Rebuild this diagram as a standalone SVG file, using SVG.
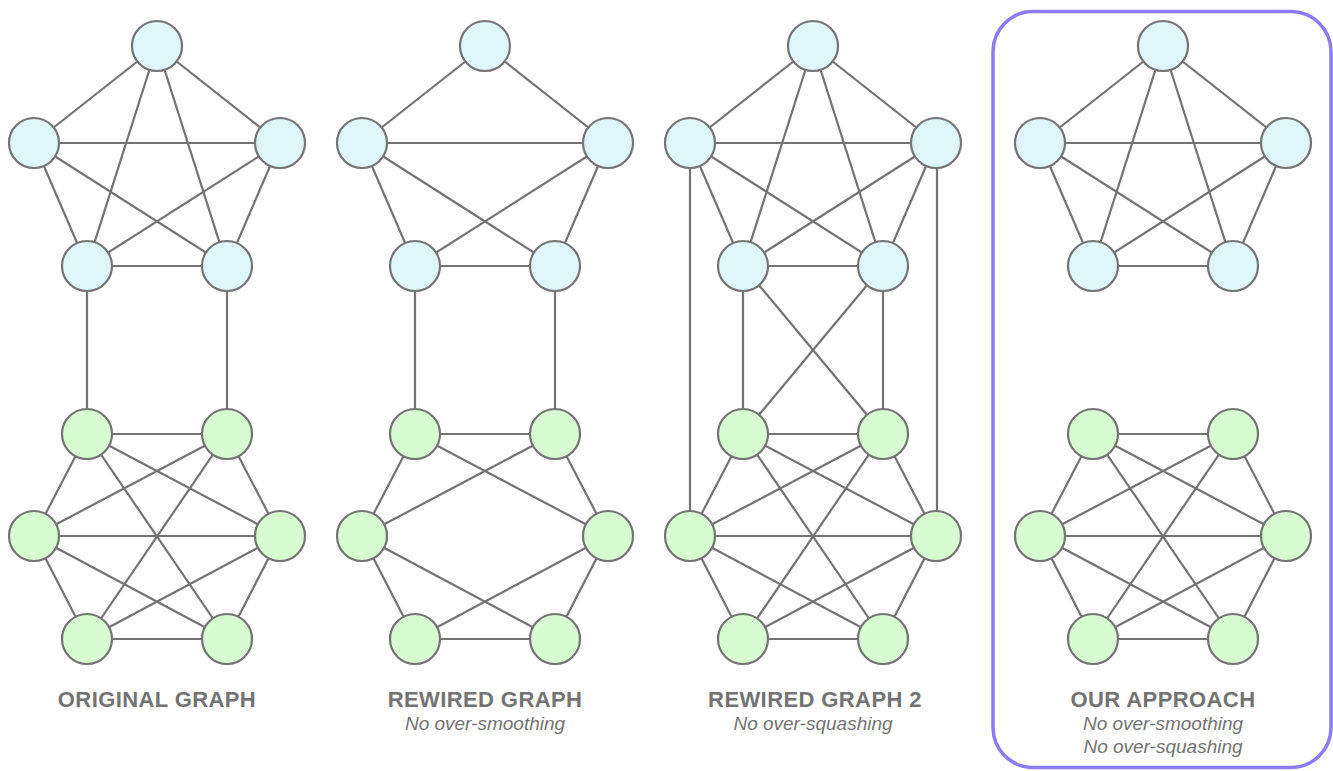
<svg xmlns="http://www.w3.org/2000/svg" xmlns:xlink="http://www.w3.org/1999/xlink" width="1333" height="771" viewBox="0 0 1333 771">
<style>
.e{stroke:#737373;stroke-width:2.2;fill:none}
.b{fill:#DFF6FB;stroke:#737373;stroke-width:2.2}
.g{fill:#D8FCD2;stroke:#737373;stroke-width:2.2}
.t{font-family:"Liberation Sans",Arial,sans-serif;font-weight:bold;font-size:22px;fill:#737373;text-anchor:middle;letter-spacing:0.4px}
.s{font-family:"Liberation Sans",Arial,sans-serif;font-style:italic;font-size:19px;fill:#737373;text-anchor:middle}
</style>
<rect id="highlight" x="993" y="11.5" width="338" height="756" rx="40" fill="none" stroke="#8B7BF7" stroke-width="3.5"/>
<g id="connectors">
 <g id="c1">
  <line class="e" x1="157" y1="46" x2="34" y2="143"/><line class="e" x1="157" y1="46" x2="280" y2="143"/><line class="e" x1="157" y1="46" x2="87" y2="266"/><line class="e" x1="157" y1="46" x2="227" y2="266"/>
  <line class="e" x1="34" y1="143" x2="280" y2="143"/><line class="e" x1="34" y1="143" x2="87" y2="266"/><line class="e" x1="34" y1="143" x2="227" y2="266"/>
  <line class="e" x1="280" y1="143" x2="87" y2="266"/><line class="e" x1="280" y1="143" x2="227" y2="266"/><line class="e" x1="87" y1="266" x2="227" y2="266"/>
  <line class="e" x1="87" y1="266" x2="87" y2="434"/><line class="e" x1="227" y1="266" x2="227" y2="434"/>
  <line class="e" x1="87" y1="434" x2="227" y2="434"/><line class="e" x1="87" y1="434" x2="34" y2="536"/><line class="e" x1="87" y1="434" x2="280" y2="536"/><line class="e" x1="87" y1="434" x2="227" y2="639"/>
  <line class="e" x1="227" y1="434" x2="34" y2="536"/><line class="e" x1="227" y1="434" x2="280" y2="536"/><line class="e" x1="227" y1="434" x2="87" y2="639"/>
  <line class="e" x1="34" y1="536" x2="280" y2="536"/><line class="e" x1="34" y1="536" x2="87" y2="639"/><line class="e" x1="34" y1="536" x2="227" y2="639"/>
  <line class="e" x1="280" y1="536" x2="87" y2="639"/><line class="e" x1="280" y1="536" x2="227" y2="639"/><line class="e" x1="87" y1="639" x2="227" y2="639"/>
 </g>
 <g id="c2" transform="translate(328,0)">
  <line class="e" x1="157" y1="46" x2="34" y2="143"/><line class="e" x1="157" y1="46" x2="280" y2="143"/>
  <line class="e" x1="34" y1="143" x2="280" y2="143"/><line class="e" x1="34" y1="143" x2="87" y2="266"/><line class="e" x1="34" y1="143" x2="227" y2="266"/>
  <line class="e" x1="280" y1="143" x2="87" y2="266"/><line class="e" x1="280" y1="143" x2="227" y2="266"/><line class="e" x1="87" y1="266" x2="227" y2="266"/>
  <line class="e" x1="87" y1="266" x2="87" y2="434"/><line class="e" x1="227" y1="266" x2="227" y2="434"/>
  <line class="e" x1="87" y1="434" x2="227" y2="434"/><line class="e" x1="87" y1="434" x2="34" y2="536"/><line class="e" x1="87" y1="434" x2="280" y2="536"/>
  <line class="e" x1="227" y1="434" x2="34" y2="536"/><line class="e" x1="227" y1="434" x2="280" y2="536"/>
  <line class="e" x1="34" y1="536" x2="87" y2="639"/><line class="e" x1="34" y1="536" x2="227" y2="639"/>
  <line class="e" x1="280" y1="536" x2="87" y2="639"/><line class="e" x1="280" y1="536" x2="227" y2="639"/><line class="e" x1="87" y1="639" x2="227" y2="639"/>
 </g>
 <g id="c3" transform="translate(656,0)">
  <line class="e" x1="157" y1="46" x2="34" y2="143"/><line class="e" x1="157" y1="46" x2="280" y2="143"/><line class="e" x1="157" y1="46" x2="87" y2="266"/><line class="e" x1="157" y1="46" x2="227" y2="266"/>
  <line class="e" x1="34" y1="143" x2="280" y2="143"/><line class="e" x1="34" y1="143" x2="87" y2="266"/><line class="e" x1="34" y1="143" x2="227" y2="266"/>
  <line class="e" x1="280" y1="143" x2="87" y2="266"/><line class="e" x1="280" y1="143" x2="227" y2="266"/><line class="e" x1="87" y1="266" x2="227" y2="266"/>
  <line class="e" x1="34" y1="143" x2="34" y2="536"/><line class="e" x1="281" y1="143" x2="281" y2="536"/>
  <line class="e" x1="87" y1="266" x2="87" y2="434"/><line class="e" x1="227" y1="266" x2="227" y2="434"/>
  <line class="e" x1="87" y1="266" x2="227" y2="434"/><line class="e" x1="227" y1="266" x2="87" y2="434"/>
  <line class="e" x1="87" y1="434" x2="227" y2="434"/><line class="e" x1="87" y1="434" x2="34" y2="536"/><line class="e" x1="87" y1="434" x2="280" y2="536"/><line class="e" x1="87" y1="434" x2="227" y2="639"/>
  <line class="e" x1="227" y1="434" x2="34" y2="536"/><line class="e" x1="227" y1="434" x2="280" y2="536"/><line class="e" x1="227" y1="434" x2="87" y2="639"/>
  <line class="e" x1="34" y1="536" x2="280" y2="536"/><line class="e" x1="34" y1="536" x2="87" y2="639"/><line class="e" x1="34" y1="536" x2="227" y2="639"/>
  <line class="e" x1="280" y1="536" x2="87" y2="639"/><line class="e" x1="280" y1="536" x2="227" y2="639"/><line class="e" x1="87" y1="639" x2="227" y2="639"/>
 </g>
 <g id="c4" transform="translate(1006,0)">
  <line class="e" x1="157" y1="46" x2="34" y2="143"/><line class="e" x1="157" y1="46" x2="280" y2="143"/><line class="e" x1="157" y1="46" x2="87" y2="266"/><line class="e" x1="157" y1="46" x2="227" y2="266"/>
  <line class="e" x1="34" y1="143" x2="280" y2="143"/><line class="e" x1="34" y1="143" x2="87" y2="266"/><line class="e" x1="34" y1="143" x2="227" y2="266"/>
  <line class="e" x1="280" y1="143" x2="87" y2="266"/><line class="e" x1="280" y1="143" x2="227" y2="266"/><line class="e" x1="87" y1="266" x2="227" y2="266"/>
  <line class="e" x1="87" y1="434" x2="227" y2="434"/><line class="e" x1="87" y1="434" x2="34" y2="536"/><line class="e" x1="87" y1="434" x2="280" y2="536"/><line class="e" x1="87" y1="434" x2="227" y2="639"/>
  <line class="e" x1="227" y1="434" x2="34" y2="536"/><line class="e" x1="227" y1="434" x2="280" y2="536"/><line class="e" x1="227" y1="434" x2="87" y2="639"/>
  <line class="e" x1="34" y1="536" x2="280" y2="536"/><line class="e" x1="34" y1="536" x2="87" y2="639"/><line class="e" x1="34" y1="536" x2="227" y2="639"/>
  <line class="e" x1="280" y1="536" x2="87" y2="639"/><line class="e" x1="280" y1="536" x2="227" y2="639"/><line class="e" x1="87" y1="639" x2="227" y2="639"/>
 </g>
</g>
<g id="panel1">
 <g id="p1-b1"><circle class="b" cx="157" cy="46" r="25"/></g>
 <g id="p1-b2"><circle class="b" cx="34" cy="143" r="25"/></g>
 <g id="p1-b3"><circle class="b" cx="280" cy="143" r="25"/></g>
 <g id="p1-b4"><circle class="b" cx="87" cy="266" r="25"/></g>
 <g id="p1-b5"><circle class="b" cx="227" cy="266" r="25"/></g>
 <g id="p1-g1"><circle class="g" cx="87" cy="434" r="25"/></g>
 <g id="p1-g2"><circle class="g" cx="227" cy="434" r="25"/></g>
 <g id="p1-g3"><circle class="g" cx="34" cy="536" r="25"/></g>
 <g id="p1-g4"><circle class="g" cx="280" cy="536" r="25"/></g>
 <g id="p1-g5"><circle class="g" cx="87" cy="639" r="25"/></g>
 <g id="p1-g6"><circle class="g" cx="227" cy="639" r="25"/></g>
 <text class="t" x="157" y="707">ORIGINAL GRAPH</text>
</g>
<g id="panel2" transform="translate(328,0)">
 <g id="p2-b1"><circle class="b" cx="157" cy="46" r="25"/></g>
 <g id="p2-b2"><circle class="b" cx="34" cy="143" r="25"/></g>
 <g id="p2-b3"><circle class="b" cx="280" cy="143" r="25"/></g>
 <g id="p2-b4"><circle class="b" cx="87" cy="266" r="25"/></g>
 <g id="p2-b5"><circle class="b" cx="227" cy="266" r="25"/></g>
 <g id="p2-g1"><circle class="g" cx="87" cy="434" r="25"/></g>
 <g id="p2-g2"><circle class="g" cx="227" cy="434" r="25"/></g>
 <g id="p2-g3"><circle class="g" cx="34" cy="536" r="25"/></g>
 <g id="p2-g4"><circle class="g" cx="280" cy="536" r="25"/></g>
 <g id="p2-g5"><circle class="g" cx="87" cy="639" r="25"/></g>
 <g id="p2-g6"><circle class="g" cx="227" cy="639" r="25"/></g>
 <text class="t" x="157" y="707">REWIRED GRAPH</text>
 <text class="s" x="157" y="730">No over-smoothing</text>
</g>
<g id="panel3" transform="translate(656,0)">
 <g id="p3-b1"><circle class="b" cx="157" cy="46" r="25"/></g>
 <g id="p3-b2"><circle class="b" cx="34" cy="143" r="25"/></g>
 <g id="p3-b3"><circle class="b" cx="280" cy="143" r="25"/></g>
 <g id="p3-b4"><circle class="b" cx="87" cy="266" r="25"/></g>
 <g id="p3-b5"><circle class="b" cx="227" cy="266" r="25"/></g>
 <g id="p3-g1"><circle class="g" cx="87" cy="434" r="25"/></g>
 <g id="p3-g2"><circle class="g" cx="227" cy="434" r="25"/></g>
 <g id="p3-g3"><circle class="g" cx="34" cy="536" r="25"/></g>
 <g id="p3-g4"><circle class="g" cx="280" cy="536" r="25"/></g>
 <g id="p3-g5"><circle class="g" cx="87" cy="639" r="25"/></g>
 <g id="p3-g6"><circle class="g" cx="227" cy="639" r="25"/></g>
 <text class="t" x="159" y="707">REWIRED GRAPH 2</text>
 <text class="s" x="157" y="730">No over-squashing</text>
</g>
<g id="panel4" transform="translate(1006,0)">
 <g id="p4-b1"><circle class="b" cx="157" cy="46" r="25"/></g>
 <g id="p4-b2"><circle class="b" cx="34" cy="143" r="25"/></g>
 <g id="p4-b3"><circle class="b" cx="280" cy="143" r="25"/></g>
 <g id="p4-b4"><circle class="b" cx="87" cy="266" r="25"/></g>
 <g id="p4-b5"><circle class="b" cx="227" cy="266" r="25"/></g>
 <g id="p4-g1"><circle class="g" cx="87" cy="434" r="25"/></g>
 <g id="p4-g2"><circle class="g" cx="227" cy="434" r="25"/></g>
 <g id="p4-g3"><circle class="g" cx="34" cy="536" r="25"/></g>
 <g id="p4-g4"><circle class="g" cx="280" cy="536" r="25"/></g>
 <g id="p4-g5"><circle class="g" cx="87" cy="639" r="25"/></g>
 <g id="p4-g6"><circle class="g" cx="227" cy="639" r="25"/></g>
 <text class="t" x="157" y="707">OUR APPROACH</text>
 <text class="s" x="157" y="730">No over-smoothing</text>
 <text class="s" x="157" y="753">No over-squashing</text>
</g>
</svg>
